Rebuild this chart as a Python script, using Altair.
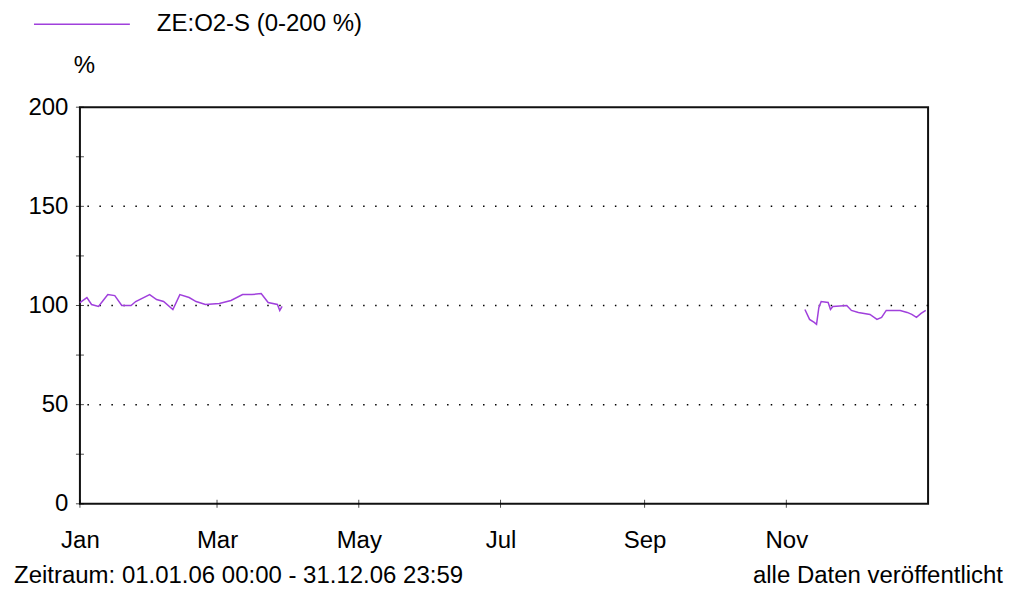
import altair as alt
import pandas as pd

# ---- data ----
seg1_dates = ["2006-01-01", "2006-01-04", "2006-01-06", "2006-01-09", "2006-01-11", "2006-01-13",
              "2006-01-16", "2006-01-19", "2006-01-23", "2006-01-25", "2006-01-31", "2006-02-03",
              "2006-02-06", "2006-02-10", "2006-02-13", "2006-02-17", "2006-02-20", "2006-02-24",
              "2006-03-02", "2006-03-07", "2006-03-12", "2006-03-16", "2006-03-20", "2006-03-23",
              "2006-03-27", "2006-03-28", "2006-03-29"]
seg1_values = [101.5, 104, 100.5, 99.5, 102.5, 105.5,
               105, 100, 100, 102, 105.5, 103,
               102, 98, 105.5, 104, 102, 100.5,
               101, 102.5, 105.5, 105.5, 106, 101.5,
               100.5, 97.5, 99.5]

seg2_dates = ["2006-11-09", "2006-11-11", "2006-11-13", "2006-11-14", "2006-11-15", "2006-11-16",
              "2006-11-19", "2006-11-20", "2006-11-21", "2006-11-27", "2006-11-29", "2006-12-02",
              "2006-12-07", "2006-12-10", "2006-12-12", "2006-12-14", "2006-12-20", "2006-12-23",
              "2006-12-25", "2006-12-27", "2006-12-29", "2006-12-31"]
seg2_values = [98, 93, 91.5, 90.5, 99, 102,
               101.5, 98, 99.5, 100, 97.5, 96.5,
               95.5, 93, 94, 97.5, 97.5, 96.5,
               95.5, 94, 96, 97.5]

series_name = "ZE:O2-S (0-200 %)"
y_label_values = [0, 50, 100, 150, 200]
y_tick_values = [0, 25, 50, 75, 100, 125, 150, 175, 200]
grid_values = [50, 100, 150]
month_ticks = ["2006-01-01", "2006-03-01", "2006-05-01", "2006-07-01", "2006-09-01", "2006-11-01"]
y_title = "%"
footer_left = "Zeitraum: 01.01.06 00:00 - 31.12.06 23:59"
footer_right = "alle Daten veröffentlicht"

# ---- tables ----
df = pd.concat([
    pd.DataFrame({"date": seg1_dates, "value": seg1_values, "segment": 1}),
    pd.DataFrame({"date": seg2_dates, "value": seg2_values, "segment": 2}),
])
df["series"] = series_name

W, H = 849, 397
FONT = "Liberation Sans"
PURPLE = "#A040DC"

x_domain = [alt.DateTime(year=2006, month=1, date=1, utc=True),
            alt.DateTime(year=2006, month=12, date=31, hours=23, minutes=59, utc=True)]
x_values = [alt.DateTime(year=2006, month=m, date=1, utc=True) for m in [1, 3, 5, 7, 9, 11]]

x_enc = alt.X("date:T",
              scale=alt.Scale(type="utc", domain=x_domain, nice=False),
              axis=alt.Axis(values=x_values, labelExpr="utcFormat(datum.value, '%b')",
                            title=None, ticks=False, domain=False, grid=False,
                            labelFlush=False, labelOverlap=False, labelPadding=25,
                            labelFontSize=24, labelFont=FONT, labelColor="black"))
y_scale = alt.Scale(domain=[0, 200], nice=False)

line = alt.Chart(df).mark_line(strokeWidth=1.5).encode(
    x=x_enc,
    y=alt.Y("value:Q", scale=y_scale,
            axis=alt.Axis(values=y_label_values, title=y_title, titleAngle=0,
                          titleX=4, titleY=-42, titleAlign="center", titleBaseline="middle",
                          titleFont=FONT, titleFontSize=24, titleFontWeight="normal",
                          titleColor="black",
                          ticks=False, domain=False, grid=False, labelPadding=12,
                          labelFontSize=24, labelFont=FONT, labelColor="black")),
    color=alt.Color("series:N", scale=alt.Scale(range=[PURPLE]),
                    legend=alt.Legend(title=None, orient="none", legendX=-47, legendY=-132,
                                      symbolType="stroke", symbolSize=9216,
                                      symbolStrokeWidth=1.5, labelFontSize=24,
                                      labelFont=FONT, labelColor="black", labelLimit=600,
                                      labelOffset=26, padding=0)),
    detail="segment:N",
)

grid = alt.Chart(pd.DataFrame({"g": grid_values})).mark_rule(
    color="black", strokeWidth=1.5, strokeDash=[1.5, 10.5]
).encode(y=alt.Y("g:Q", scale=y_scale))

yticks = alt.Chart(pd.DataFrame({"t": y_tick_values})).mark_tick(
    orient="horizontal", color="black", size=8, thickness=1
).encode(y=alt.Y("t:Q", scale=y_scale), x=alt.value(0))

xticks = alt.Chart(pd.DataFrame({"m": month_ticks})).mark_tick(
    orient="vertical", color="black", size=8, thickness=1
).encode(x=alt.X("m:T"), y=alt.value(H))

foot_l = alt.Chart(alt.Data(values=[{"t": footer_left}])).mark_text(
    align="left", baseline="alphabetic", fontSize=24, font=FONT, color="black"
).encode(text="t:N", x=alt.value(-66), y=alt.value(476))

foot_r = alt.Chart(alt.Data(values=[{"t": footer_right}])).mark_text(
    align="right", baseline="alphabetic", fontSize=24, font=FONT, color="black"
).encode(text="t:N", x=alt.value(924), y=alt.value(476))

chart = alt.layer(grid, line, yticks, xticks, foot_l, foot_r).properties(
    width=W, height=H,
    autosize=alt.AutoSizeParams(type="none"),
    padding={"left": 72, "top": 99, "right": 76, "bottom": 84},
    background="white",
).configure_view(stroke="#111111", strokeWidth=2)

chart.save("out.html", embed_options={"renderer": "svg", "actions": False})
